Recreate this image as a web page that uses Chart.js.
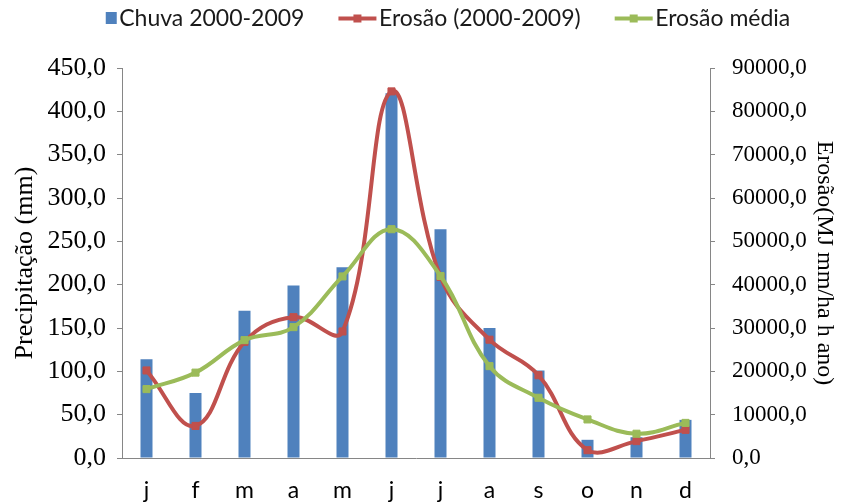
<!DOCTYPE html>
<html>
<head>
<meta charset="utf-8">
<script src="https://cdn.jsdelivr.net/npm/chart.js@4/dist/chart.umd.min.js"></script>
<style>
  html, body { margin: 0; padding: 0; background: #ffffff; }
  #wrap { width: 842px; height: 504px; }
</style>
</head>
<body>
<div id="wrap"><canvas id="chart" width="842" height="504"></canvas></div>
<script>
// Monthly data, 2000-2009
const months = ['j', 'f', 'm', 'a', 'm', 'j', 'j', 'a', 's', 'o', 'n', 'd'];
const chuva = [114, 75, 170, 199, 220, 421, 264, 150, 101, 21, 24, 44];           // mm
const erosao = [20200, 7400, 26800, 32500, 29200, 84600, 41800, 27300, 19100, 1800, 3900, 6500];
const erosaoMedia = [15900, 19700, 27200, 30200, 41900, 52800, 42000, 21200, 13900, 8900, 5600, 8100];

// Axis ranges
const precipMax = 450, precipStep = 50;
const erosaoMax = 90000, erosaoStep = 10000;

const BLUE = '#4F81BD', RED = '#C0504D', GREEN = '#9BBB59', AXIS = '#868686';
const SERIF = '"Liberation Serif", "Times New Roman", serif';
const SANS = 'Lato, "Open Sans", sans-serif';
const fmt = v => Number(v).toFixed(1).replace('.', ',');

// Legend swatches: a bar square, or a line with a square marker
const BOX_W = 56;
function swatch(kind, color) {
  const c = document.createElement('canvas');
  c.width = BOX_W + 20; c.height = 23;
  const g = c.getContext('2d');
  g.fillStyle = color; g.strokeStyle = color;
  if (kind === 'bar') {
    g.fillRect(BOX_W + 8, 5, 11, 12);
  } else {
    g.lineWidth = 4;
    g.beginPath(); g.moveTo(BOX_W - 19, 11.5); g.lineTo(BOX_W + 19, 11.5); g.stroke();
    g.fillRect(BOX_W - 4, 7.5, 8, 8);
  }
  return c;
}
const swatches = [swatch('bar', BLUE), swatch('line', RED), swatch('line', GREEN)];

// Fixed legend band height above the plot
const legendBand = {
  id: 'legendBand',
  beforeLayout(chart) {
    const lg = chart.legend;
    if (lg && !lg._banded) {
      const fit = lg.fit;
      lg.fit = function () { fit.call(this); this.height = 68; };
      lg._banded = true;
    }
  }
};

new Chart(document.getElementById('chart'), {
  data: {
    labels: months,
    datasets: [
      {
        type: 'bar', label: 'Chuva 2000-2009', data: chuva, yAxisID: 'y',
        backgroundColor: BLUE, barPercentage: 0.245, categoryPercentage: 1, order: 3
      },
      {
        type: 'line', label: 'Erosão (2000-2009)', data: erosao, yAxisID: 'y1',
        borderColor: RED, backgroundColor: RED, borderWidth: 4, tension: 0.4,
        pointStyle: 'rect', pointRadius: 5, pointBorderWidth: 1,
        pointBackgroundColor: RED, pointBorderColor: RED, order: 2
      },
      {
        type: 'line', label: 'Erosão média', data: erosaoMedia, yAxisID: 'y1',
        borderColor: GREEN, backgroundColor: GREEN, borderWidth: 4, tension: 0.4,
        pointStyle: 'rect', pointRadius: 5, pointBorderWidth: 1,
        pointBackgroundColor: GREEN, pointBorderColor: GREEN, order: 1
      }
    ]
  },
  options: {
    responsive: false,
    devicePixelRatio: 1,
    animation: false,
    layout: { padding: 0 },
    plugins: {
      tooltip: { enabled: false },
      legend: {
        position: 'top',
        labels: {
          usePointStyle: true,
          pointStyleWidth: BOX_W,
          padding: 7,
          color: '#1a1a1a',
          font: { family: SANS, size: 23, lineHeight: 1 },
          sort: (a, b) => a.datasetIndex - b.datasetIndex,
          generateLabels(chart) {
            const items = Chart.defaults.plugins.legend.labels.generateLabels(chart);
            items.forEach(it => { it.pointStyle = swatches[it.datasetIndex]; });
            return items;
          }
        }
      }
    },
    scales: {
      x: {
        grid: { display: false },
        border: { display: true, color: AXIS, width: 1 },
        ticks: { color: '#000', font: { family: SANS, size: 23 }, padding: 11 },
        afterFit(s) { s.height = 46; }
      },
      y: {
        position: 'left', min: 0, max: precipMax,
        ticks: { stepSize: precipStep, callback: fmt, color: '#000',
                 font: { family: SERIF, size: 26 }, padding: 11 },
        grid: { drawOnChartArea: false, drawTicks: true, tickLength: 5, color: AXIS },
        border: { color: AXIS, width: 1 },
        title: { display: true, text: 'Precipitação (mm)', color: '#000',
                 font: { family: SERIF, size: 26 }, padding: { top: 10, bottom: 0 } },
        afterFit(s) { s.width = 122; }
      },
      y1: {
        position: 'right', min: 0, max: erosaoMax,
        ticks: { stepSize: erosaoStep, callback: fmt, color: '#000',
                 font: { family: SERIF, size: 23 }, padding: 17 },
        grid: { drawOnChartArea: false, drawTicks: true, tickLength: 5, color: AXIS },
        border: { color: AXIS, width: 1 },
        title: { display: true, text: 'Erosão(MJ mm/ha h ano)', color: '#000',
                 font: { family: SERIF, size: 24 }, padding: { top: 3, bottom: 0 } },
        afterFit(s) { s.width = 132; }
      }
    }
  },
  plugins: [legendBand]
});
</script>
</body>
</html>
